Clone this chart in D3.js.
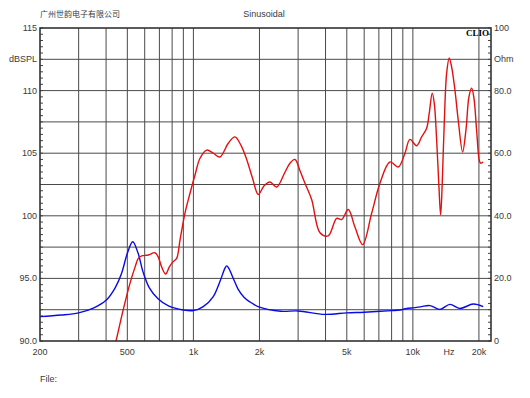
<!DOCTYPE html>
<html>
<head>
<meta charset="utf-8">
<script src="https://cdn.jsdelivr.net/npm/d3@7/dist/d3.min.js"></script>
<style>
  body { margin: 0; background: #fff; }
  text { font-family: "Liberation Sans", Arial, sans-serif; fill: #3a3a3a; }
</style>
</head>
<body>
<script>
// SPL response (red, left axis dBSPL)
var splFreq = [420, 444, 479, 514, 542, 561, 581, 623, 668, 692, 717, 748, 776, 805, 839, 869, 915, 965, 1017, 1072, 1150, 1232, 1321, 1442, 1547, 1650, 1749, 1860, 1975, 2100, 2232, 2395, 2600, 2754, 2902, 3060, 3224, 3458, 3774, 4116, 4496, 4738, 5078, 5446, 5906, 6490, 7080, 7862, 8578, 9204, 9696, 10400, 10960, 11556, 11874, 12254, 12516, 12835, 13148, 13384, 13608, 13900, 14254, 14646, 15016, 15548, 16094, 16854, 17454, 18010, 18528, 18980, 19518, 20065, 20360, 20920];
var splDb = [88.3, 90.0, 92.5, 94.6, 95.9, 96.6, 96.8, 96.87, 97.05, 96.7, 95.9, 95.35, 95.9, 96.3, 96.6, 98.07, 100.2, 101.8, 103.26, 104.6, 105.25, 105.0, 104.7, 105.8, 106.3, 105.6, 104.5, 103.0, 101.7, 102.4, 102.7, 102.3, 103.4, 104.2, 104.5, 103.6, 102.6, 101.3, 98.65, 98.4, 99.8, 99.7, 100.5, 99.1, 97.7, 100.2, 102.6, 104.3, 103.9, 105.0, 106.1, 105.6, 106.3, 107.0, 108.2, 109.8, 109.0, 106.05, 102.3, 100.06, 102.6, 107.4, 111.4, 112.6, 111.9, 110.05, 107.65, 105.1, 106.85, 109.5, 110.2, 109.4, 106.85, 104.45, 104.2, 104.3];

// impedance (blue, right axis Ohm)
var impFreq = [200, 250, 300, 350, 400, 440, 470, 500, 529, 560, 590, 630, 690, 770, 900, 1000, 1109, 1232, 1321, 1393, 1418, 1450, 1530, 1600, 1700, 1800, 2000, 2500, 3000, 3970, 5000, 6000, 8000, 8730, 9368, 10220, 10960, 11960, 13280, 14760, 16380, 18840, 20920];
var impOhm = [7.8, 8.3, 9.0, 10.5, 13.0, 17.0, 21.5, 28.0, 31.7, 28.0, 22.0, 17.0, 13.5, 11.2, 9.9, 9.7, 11.0, 14.2, 19.0, 23.3, 24.0, 23.2, 19.5, 16.5, 14.0, 12.6, 10.8, 9.5, 9.6, 8.5, 9.0, 9.2, 9.7, 9.9, 10.4, 10.65, 11.0, 11.3, 10.1, 11.7, 10.4, 11.8, 11.0];

var freqGrid = [300, 400, 500, 600, 700, 800, 900, 1000, 2000, 3000, 4000, 5000, 6000, 7000, 8000, 9000, 10000, 20000];
var freqLabels = [[200, '200'], [500, '500'], [1000, '1k'], [2000, '2k'], [5000, '5k'], [10000, '10k'], [20000, '20k']];
var dbLabels = [[115, '115'], [112.5, 'dBSPL'], [110, '110'], [105, '105'], [100, '100'], [95, '95.0'], [90, '90.0']];
var ohmLabels = [[100, '100'], [90, 'Ohm'], [80, '80.0'], [60, '60.0'], [40, '40.0'], [20, '20.0'], [0, '0']];

var W = 530, H = 398;
var plot = {left: 40, right: 491, top: 28, bottom: 341};

var x = d3.scaleLog().domain([200, 22700]).range([plot.left, plot.right]);
var yDb = d3.scaleLinear().domain([90, 115]).range([plot.bottom, plot.top]);
var yOhm = d3.scaleLinear().domain([0, 100]).range([plot.bottom, plot.top]);

var svg = d3.select('body').append('svg')
            .attr('width', W)
            .attr('height', H);

svg.append('defs').append('clipPath').attr('id', 'clip')
   .append('rect')
   .attr('x', plot.left).attr('y', plot.top)
   .attr('width', plot.right - plot.left).attr('height', plot.bottom - plot.top);

svg.append('rect')
   .attr('x', plot.left).attr('y', plot.top)
   .attr('width', plot.right - plot.left).attr('height', plot.bottom - plot.top)
   .attr('fill', '#fff');

// grid
svg.selectAll('line.vgrid').data(freqGrid).enter().append('line')
   .attr('class', 'vgrid')
   .attr('x1', function(d){ return x(d); })
   .attr('x2', function(d){ return x(d); })
   .attr('y1', plot.top).attr('y2', plot.bottom)
   .attr('stroke', '#4a4a4a').attr('stroke-width', 1);

svg.selectAll('line.hgrid').data(d3.range(92.5, 115, 2.5)).enter().append('line')
   .attr('class', 'hgrid')
   .attr('x1', plot.left).attr('x2', plot.right)
   .attr('y1', function(d){ return yDb(d); })
   .attr('y2', function(d){ return yDb(d); })
   .attr('stroke', '#4a4a4a').attr('stroke-width', 1);

// minor ticks, inside on both sides
var minor = d3.range(90, 115.01, 0.5);
svg.selectAll('line.tl').data(minor).enter().append('line')
   .attr('x1', plot.left).attr('x2', plot.left + 3)
   .attr('y1', function(d){ return yDb(d); })
   .attr('y2', function(d){ return yDb(d); })
   .attr('stroke', '#444');
svg.selectAll('line.tr').data(minor).enter().append('line')
   .attr('x1', plot.right - 3).attr('x2', plot.right)
   .attr('y1', function(d){ return yDb(d); })
   .attr('y2', function(d){ return yDb(d); })
   .attr('stroke', '#444');

var g = svg.append('g').attr('clip-path', 'url(#clip)');

var line = d3.line().curve(d3.curveCatmullRom.alpha(0.5));

g.append('path')
 .datum(impFreq.map(function(f, i){ return [x(f), yOhm(impOhm[i])]; }))
 .attr('d', line)
 .attr('fill', 'none')
 .attr('stroke', '#0a0ae6')
 .attr('stroke-width', 1.4);

g.append('path')
 .datum(splFreq.map(function(f, i){ return [x(f), yDb(splDb[i])]; }))
 .attr('d', line)
 .attr('fill', 'none')
 .attr('stroke', '#e31010')
 .attr('stroke-width', 1.4);

// frame
svg.append('rect')
   .attr('x', plot.left).attr('y', plot.top)
   .attr('width', plot.right - plot.left).attr('height', plot.bottom - plot.top)
   .attr('fill', 'none')
   .attr('stroke', '#333').attr('stroke-width', 1.6);

// labels
svg.selectAll('text.xl').data(freqLabels).enter().append('text')
   .attr('x', function(d){ return x(d[0]); })
   .attr('y', 355)
   .attr('text-anchor', 'middle')
   .style('font-size', '9px')
   .text(function(d){ return d[1]; });

svg.append('text').attr('x', 449).attr('y', 355)
   .attr('text-anchor', 'middle').style('font-size', '9px').text('Hz');

svg.selectAll('text.yl').data(dbLabels).enter().append('text')
   .attr('x', 37)
   .attr('y', function(d){ return yDb(d[0]) + 3; })
   .attr('text-anchor', 'end')
   .style('font-size', '9px')
   .text(function(d){ return d[1]; });

svg.selectAll('text.yr').data(ohmLabels).enter().append('text')
   .attr('x', 494)
   .attr('y', function(d){ return yOhm(d[0]) + 3; })
   .style('font-size', '9px')
   .text(function(d){ return d[1]; });

svg.append('text').attr('x', 40).attr('y', 17)
   .style('font-family', '"Noto Sans CJK SC", sans-serif')
   .style('font-size', '8px')
   .text('广州世韵电子有限公司');

svg.append('text').attr('x', 264).attr('y', 17)
   .attr('text-anchor', 'middle').style('font-size', '9px')
   .text('Sinusoidal');

svg.append('text').attr('x', 489).attr('y', 36)
   .attr('text-anchor', 'end')
   .style('font-family', '"Liberation Serif", "DejaVu Serif", serif')
   .style('font-weight', 'bold').style('font-size', '9px')
   .style('fill', '#000')
   .text('CLIO');

svg.append('text').attr('x', 40).attr('y', 382)
   .style('font-size', '9px')
   .text('File:');
</script>
</body>
</html>
